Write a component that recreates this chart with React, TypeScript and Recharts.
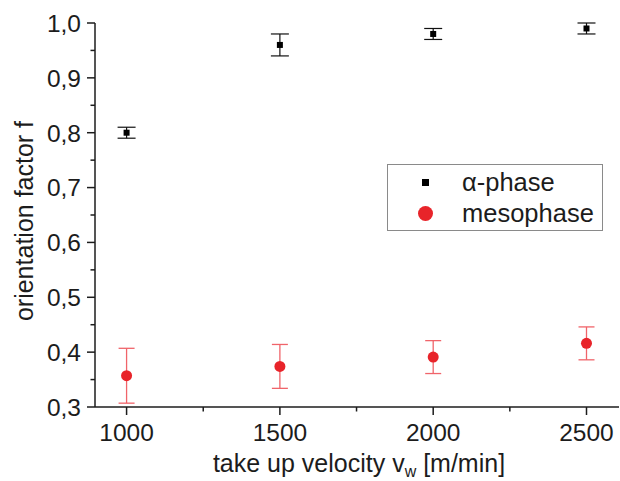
import { ScatterChart, Scatter, XAxis, YAxis, ErrorBar } from 'recharts';

const velocities = [1000, 1500, 2000, 2500];
const alphaValues = [0.8, 0.96, 0.98, 0.99];
const alphaErrors = [0.01, 0.02, 0.01, 0.01];
const mesoValues = [0.357, 0.374, 0.391, 0.416];
const mesoErrors = [0.05, 0.04, 0.03, 0.03];
const seriesNames = ['α-phase', 'mesophase'];

const xTicks = [1000, 1250, 1500, 1750, 2000, 2250, 2500];
const xLabels = [1000, 1500, 2000, 2500];
const yTicks = [0.3, 0.35, 0.4, 0.45, 0.5, 0.55, 0.6, 0.65, 0.7, 0.75, 0.8, 0.85, 0.9, 0.95, 1.0];
const yLabels = [0.3, 0.4, 0.5, 0.6, 0.7, 0.8, 0.9, 1.0];

const alphaData = velocities.map((v, i) => ({ x: v, y: alphaValues[i], err: alphaErrors[i] }));
const mesoData = velocities.map((v, i) => ({ x: v, y: mesoValues[i], err: mesoErrors[i] }));

const FONT = '"Liberation Sans", Arial, Helvetica, sans-serif';
const RED = '#e8242a';
const INK = '#1c1c1c';

const XTick = (props: any) => {
  const { x, y, payload } = props;
  const axisY = y - 9 - 8;
  const major = xLabels.includes(payload.value);
  return (
    <g>
      <line x1={x} x2={x} y1={axisY} y2={axisY + (major ? 8 : 4.5)} stroke={INK} strokeWidth={1.5} />
      {major && (
        <text x={x} y={y} dy="0.71em" textAnchor="middle" fontSize={24.5} fontFamily={FONT} fill={INK}>
          {payload.value}
        </text>
      )}
    </g>
  );
};

const YTick = (props: any) => {
  const { x, y, payload } = props;
  const axisX = x + 6 + 8;
  const major = yLabels.some((v) => Math.abs(v - payload.value) < 1e-6);
  return (
    <g>
      <line x1={axisX - (major ? 8 : 4.5)} x2={axisX} y1={y} y2={y} stroke={INK} strokeWidth={1.5} />
      {major && (
        <text x={x} y={y} dy="0.36em" textAnchor="end" fontSize={24.5} fontFamily={FONT} fill={INK}>
          {payload.value.toFixed(1).replace('.', ',')}
        </text>
      )}
    </g>
  );
};

const XTitle = (props: any) => {
  const { viewBox } = props;
  const cx = viewBox.x + viewBox.width / 2 + 2;
  return (
    <text x={cx} y={viewBox.y + 65} textAnchor="middle" fontSize={25} fontFamily={FONT} fill={INK}>
      take up velocity v
      <tspan fontSize={16} dy={5}>w</tspan>
      <tspan dy={-5}> [m/min]</tspan>
    </text>
  );
};

const YTitle = (props: any) => {
  const { viewBox } = props;
  const cx = viewBox.x + 33;
  const cy = viewBox.y + viewBox.height / 2 + 6;
  return (
    <text
      x={cx}
      y={cy}
      textAnchor="middle"
      fontSize={25}
      fontFamily={FONT}
      fill={INK}
      transform={`rotate(-90, ${cx}, ${cy})`}
    >
      orientation factor f
    </text>
  );
};

function LegendBox() {
  return (
    <div
      style={{
        position: 'absolute',
        left: 387,
        top: 164,
        border: '1px solid #8a8a8a',
        width: 216,
        height: 67,
        boxSizing: 'border-box',
        background: '#fff',
        fontFamily: FONT,
        fontSize: 25.5,
        color: INK,
        paddingTop: 2,
      }}
    >
      {seriesNames.map((name, i) => (
        <div key={name} style={{ display: 'flex', alignItems: 'center', height: 31 }}>
          <div style={{ width: 74, display: 'flex', justifyContent: 'center' }}>
            {i === 0 ? (
              <div style={{ width: 7, height: 7, background: '#000' }} />
            ) : (
              <div style={{ width: 15, height: 15, borderRadius: '50%', background: RED }} />
            )}
          </div>
          <span>{name}</span>
        </div>
      ))}
    </div>
  );
}

export default function App() {
  return (
    <div style={{ position: 'absolute', left: 0, top: 0, width: 620, height: 481, background: '#fff' }}>
      <ScatterChart width={620} height={481} margin={{ top: 23, right: 1, bottom: 0, left: 0 }}>
        <XAxis
          type="number"
          dataKey="x"
          domain={[897, 2606]}
          ticks={xTicks}
          interval={0}
          height={74}
          tickSize={8}
          tickMargin={9}
          tickLine={false}
          tick={<XTick />}
          stroke={INK}
          strokeWidth={1.5}
          allowDataOverflow
          label={<XTitle />}
        />
        <YAxis
          type="number"
          dataKey="y"
          domain={[0.3, 1.0]}
          ticks={yTicks}
          interval={0}
          width={95}
          tickSize={8}
          tickMargin={6}
          tickLine={false}
          tick={<YTick />}
          stroke={INK}
          strokeWidth={1.5}
          allowDataOverflow
          label={<YTitle />}
        />
        <Scatter
          name={seriesNames[0]}
          data={alphaData}
          fill="#000"
          isAnimationActive={false}
          shape={(p: any) => <rect x={p.cx - 3} y={p.cy - 3} width={6} height={6} fill="#000" />}
        >
          <ErrorBar dataKey="err" direction="y" width={9} stroke="#111" strokeWidth={1.2} />
        </Scatter>
        <Scatter
          name={seriesNames[1]}
          data={mesoData}
          fill={RED}
          isAnimationActive={false}
          shape={(p: any) => <circle cx={p.cx} cy={p.cy} r={5.5} fill={RED} />}
        >
          <ErrorBar dataKey="err" direction="y" width={8} stroke="#f0646a" strokeWidth={1.3} />
        </Scatter>
      </ScatterChart>
      <LegendBox />
    </div>
  );
}
